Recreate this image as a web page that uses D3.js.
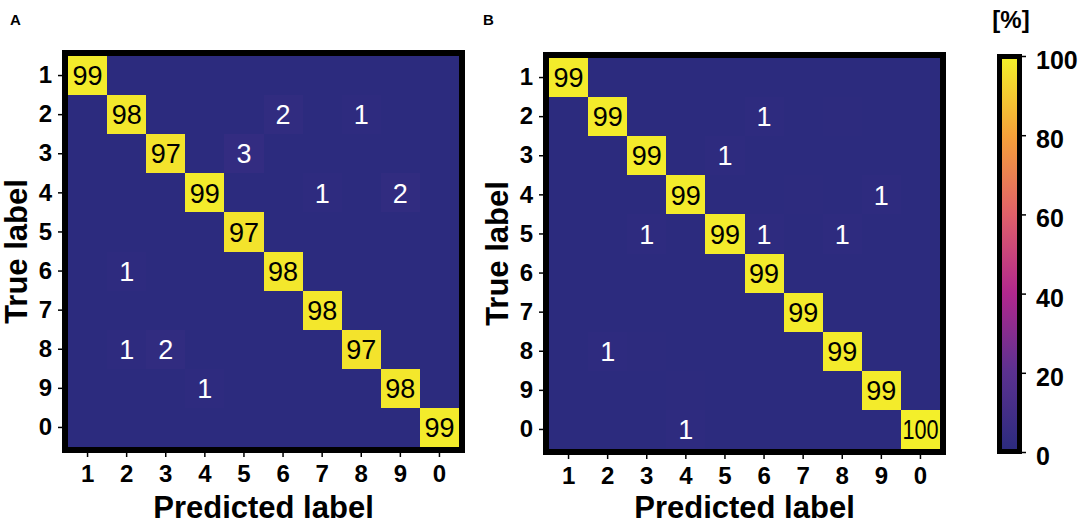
<!DOCTYPE html>
<html><head><meta charset="utf-8">
<script src="https://cdn.jsdelivr.net/npm/d3@7"></script>
<style>body{margin:0;background:#fff}svg{display:block}</style>
</head><body>
<svg id="chart" width="1084" height="527"></svg>
<script>
// ---- data ----
const classLabels = ["1","2","3","4","5","6","7","8","9","0"];
// rows = true label, columns = predicted label (percent)
const matrixA = [
  [99,0,0,0,0,0,0,0,0,0],
  [0,98,0,0,0,2,0,1,0,0],
  [0,0,97,0,3,0,0,0,0,0],
  [0,0,0,99,0,0,1,0,2,0],
  [0,0,0,0,97,0,0,0,0,0],
  [0,1,0,0,0,98,0,0,0,0],
  [0,0,0,0,0,0,98,0,0,0],
  [0,1,2,0,0,0,0,97,0,0],
  [0,0,0,1,0,0,0,0,98,0],
  [0,0,0,0,0,0,0,0,0,99]
];
const matrixB = [
  [99,0,0,0,0,0,0,0,0,0],
  [0,99,0,0,0,1,0,0.4,0,0],
  [0,0,99,0,1,0,0,0,0,0],
  [0,0,0,99,0,0,0.4,0,1,0],
  [0,0,1,0,99,1,0,1,0,0],
  [0,0,0,0,0,99,0,0,0,0],
  [0,0,0,0,0,0,99,0,0,0],
  [0,1,0.4,0,0,0,0,99,0,0],
  [0,0,0,0.4,0,0,0,0,99,0],
  [0,0,0,1,0,0,0,0,0,100]
];
const panelLetters = ["A","B"];
const colorbarTicks = [0,20,40,60,80,100];
const colorStops = [0,20,40,60,80,100];
const colorStopValues = ["#2c2b7e","#5c3190","#b1288e","#e0606a","#f6a03a","#f3ef2a"];

// ---- drawing ----
const svg = d3.select("#chart");
const color = d3.scaleLinear().domain(colorStops).range(colorStopValues).interpolate(d3.interpolateRgb).clamp(true);
const FONT = "'Liberation Sans', Arial, sans-serif";

const panels = [
  {m: matrixA, x0: 68, y0: 56, size: 391, letter: panelLetters[0], lx: 10},
  {m: matrixB, x0: 549, y0: 58, size: 391, letter: panelLetters[1], lx: 483}
];

panels.forEach(p => {
  const g = svg.append("g");
  const x = d3.scaleBand().domain(classLabels).range([p.x0, p.x0 + p.size]);
  const y = d3.scaleBand().domain(classLabels).range([p.y0, p.y0 + p.size]);
  const cells = [];
  p.m.forEach((row, i) => row.forEach((v, j) => cells.push({t: classLabels[i], pr: classLabels[j], v})));

  g.append("rect").attr("x", p.x0).attr("y", p.y0).attr("width", p.size).attr("height", p.size)
    .attr("fill", color(0));
  g.selectAll("rect.cell").data(cells.filter(d => d.v > 0)).join("rect")
    .attr("class","cell")
    .attr("shape-rendering","crispEdges")
    .attr("x", d => x(d.pr)).attr("y", d => y(d.t))
    .attr("width", x.bandwidth()).attr("height", y.bandwidth())
    .attr("fill", d => color(d.v));

  const txt = g.selectAll("text.val").data(cells.filter(d => Math.round(d.v) >= 1)).join("text")
    .attr("class","val")
    .attr("x", d => x(d.pr) + x.bandwidth()/2)
    .attr("y", d => y(d.t) + y.bandwidth()/2)
    .attr("dy","0.36em")
    .attr("text-anchor","middle")
    .attr("font-family", FONT)
    .attr("font-size", 27)
    .attr("fill", d => d.v > 50 ? "#000" : "#fff")
    .text(d => Math.round(d.v));
  txt.each(function(){
    const w = this.getComputedTextLength();
    if (w > x.bandwidth() - 3) {
      d3.select(this).attr("textLength", x.bandwidth() - 3).attr("lengthAdjust","spacingAndGlyphs");
    }
  });

  // frame
  g.append("rect")
    .attr("x", p.x0 - 3).attr("y", p.y0 - 3)
    .attr("width", p.size + 6).attr("height", p.size + 6)
    .attr("fill","none").attr("stroke","#000").attr("stroke-width",6);

  // axes
  const ay = g.append("g").attr("transform", `translate(${p.x0 - 6},0)`)
    .call(d3.axisLeft(y).tickSize(4).tickPadding(6));
  const ax = g.append("g").attr("transform", `translate(0,${p.y0 + p.size + 6})`)
    .call(d3.axisBottom(x).tickSize(4).tickPadding(8));
  [ax, ay].forEach(a => {
    a.select(".domain").remove();
    a.selectAll("line").attr("stroke","#000").attr("stroke-width",1.5);
    a.selectAll("text").attr("font-family", FONT).attr("font-weight","bold").attr("font-size",24).attr("fill","#000");
  });

  g.append("text")
    .attr("x", p.x0 + p.size/2).attr("y", 518)
    .attr("text-anchor","middle")
    .attr("font-family", FONT).attr("font-weight","bold").attr("font-size",31)
    .text("Predicted label");
  g.append("text")
    .attr("transform", `translate(${p.x0 - 41},${p.y0 + p.size/2}) rotate(-90)`)
    .attr("text-anchor","middle")
    .attr("font-family", FONT).attr("font-weight","bold").attr("font-size",31)
    .text("True label");
  g.append("text")
    .attr("x", p.lx).attr("y", 25)
    .attr("font-family", FONT).attr("font-weight","bold").attr("font-size",15)
    .text(p.letter);
});

// colorbar
const cb = {x: 1002, y: 59, w: 15, h: 390};
const defs = svg.append("defs");
const grad = defs.append("linearGradient").attr("id","cbgrad")
  .attr("x1","0").attr("y1","1").attr("x2","0").attr("y2","0");
grad.selectAll("stop").data(d3.range(0, 101, 5)).join("stop")
  .attr("offset", d => d + "%").attr("stop-color", d => color(d));
svg.append("rect").attr("x", cb.x).attr("y", cb.y).attr("width", cb.w).attr("height", cb.h)
  .attr("fill","url(#cbgrad)");
svg.append("rect").attr("x", cb.x - 2.5).attr("y", cb.y - 2.5).attr("width", cb.w + 5).attr("height", cb.h + 5)
  .attr("fill","none").attr("stroke","#000").attr("stroke-width",5);
const cbScale = d3.scaleLinear().domain([0,100]).range([cb.y + cb.h + 3, cb.y - 3]);
const cbAxis = svg.append("g").attr("transform", `translate(${cb.x + cb.w + 5},0)`)
  .call(d3.axisRight(cbScale).tickValues(colorbarTicks).tickSize(4).tickPadding(10));
cbAxis.select(".domain").remove();
cbAxis.selectAll("line").attr("stroke","#000").attr("stroke-width",1.5);
cbAxis.selectAll("text").attr("font-family", FONT).attr("font-weight","bold").attr("font-size",25).attr("fill","#000").attr("dy","0.5em");
svg.append("text").attr("x", 1011).attr("y", 28).attr("text-anchor","middle")
  .attr("font-family", FONT).attr("font-weight","bold").attr("font-size",24).text("[%]");
</script>
</body></html>
